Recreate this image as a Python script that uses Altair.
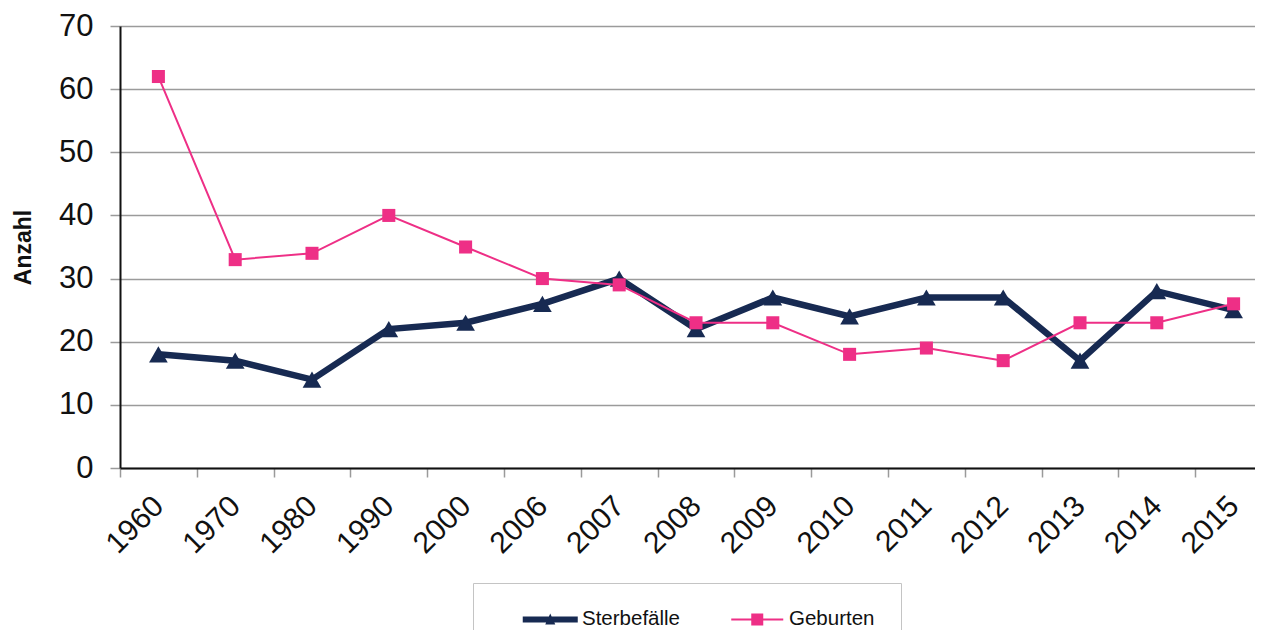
import altair as alt
import pandas as pd

years = ["1960", "1970", "1980", "1990", "2000", "2006", "2007", "2008",
         "2009", "2010", "2011", "2012", "2013", "2014", "2015"]
sterbefaelle = [18, 17, 14, 22, 23, 26, 30, 22, 27, 24, 27, 27, 17, 28, 25]
geburten = [62, 33, 34, 40, 35, 30, 29, 23, 23, 18, 19, 17, 23, 23, 26]
series_names = ["Sterbefälle", "Geburten"]
series_colors = ["#172a52", "#ee2f86"]
y_ticks = [0, 10, 20, 30, 40, 50, 60, 70]

# legend symbols: line with marker (custom paths, 1 unit = 10 px)
legend_paths = [
    "M-2.75,-0.3L2.75,-0.3L2.75,0.3L-2.75,0.3ZM-0.5,0.5L0,-0.6L0.5,0.5Z",
    "M-2.6,-0.1L2.6,-0.1L2.6,0.1L-2.6,0.1ZM-0.6,-0.6L0.6,-0.6L0.6,0.6L-0.6,0.6Z",
]

df = pd.DataFrame({
    "Jahr": years * 2,
    "Serie": [series_names[0]] * len(years) + [series_names[1]] * len(years),
    "Anzahl": sterbefaelle + geburten,
})

FONT = "Liberation Sans"
NAVY, PINK = series_colors

x_enc = alt.X(
    "Jahr:N", sort=years, bandPosition=0.5,
    scale=alt.Scale(type="band", domain=years, range=[0, 1152],
                    paddingInner=0, paddingOuter=0),
    axis=alt.Axis(title=None, labelAngle=-45, labelAlign="right",
                  labelBaseline="middle", labelFont=FONT, labelFontSize=30,
                  labelColor="#111111", tickBand="extent", tickColor="#9a9a9a",
                  tickSize=9, tickWidth=1.5, domainColor="#111111", domainWidth=2,
                  labelPadding=24, grid=False),
)
y_enc = alt.Y(
    "Anzahl:Q",
    scale=alt.Scale(domain=[0, 70], nice=False),
    axis=alt.Axis(values=y_ticks, title="Anzahl", titleFont=FONT,
                  titleFontSize=23, titleFontWeight="bold", titleColor="#111111",
                  titlePadding=23, labelFont=FONT, labelFontSize=31,
                  labelColor="#111111", grid=True, gridColor="#9b9b9b",
                  gridWidth=1.5, tickColor="#9a9a9a", tickSize=10, tickWidth=1.5,
                  labelPadding=17, domainColor="#111111", domainWidth=2),
)

base = alt.Chart(df).encode(x=x_enc, y=y_enc)

line_s = base.transform_filter(alt.datum.Serie == series_names[0]).mark_line(
    color=NAVY, strokeWidth=6.5, strokeJoin="miter")
pts_s = base.transform_filter(alt.datum.Serie == series_names[0]).mark_point(
    shape="triangle-up", filled=True, size=350, color=NAVY, opacity=1)
line_g = base.transform_filter(alt.datum.Serie == series_names[1]).mark_line(
    color=PINK, strokeWidth=2)
pts_g = base.transform_filter(alt.datum.Serie == series_names[1]).mark_point(
    shape="square", filled=True, size=170, color=PINK, opacity=1)

legend = alt.Legend(
    title=None, orient="none", legendX=353, legendY=557, direction="horizontal",
    symbolSize=400, symbolStrokeWidth=0, symbolOpacity=1, symbolOffset=41,
    labelFont=FONT, labelFontSize=20.5, labelColor="#111111", labelOffset=21.5,
    columnPadding=25, padding=26, fillColor="white", strokeColor="#c4c4c4",
    cornerRadius=0,
)
leg = base.transform_filter("false").mark_point(filled=True, opacity=1).encode(
    color=alt.Color("Serie:N", scale=alt.Scale(domain=series_names, range=series_colors),
                    legend=legend),
    shape=alt.Shape("Serie:N", scale=alt.Scale(domain=series_names, range=legend_paths),
                    legend=legend),
)

chart = alt.layer(line_s, pts_s, line_g, pts_g, leg).properties(
    width=1135, height=442,
    autosize=alt.AutoSizeParams(type="none"),
    padding={"left": 112, "top": 18, "right": 0, "bottom": 162},
    background="white",
).configure_view(stroke=None)

chart.save("out.html", embed_options={"renderer": "svg", "actions": False})
